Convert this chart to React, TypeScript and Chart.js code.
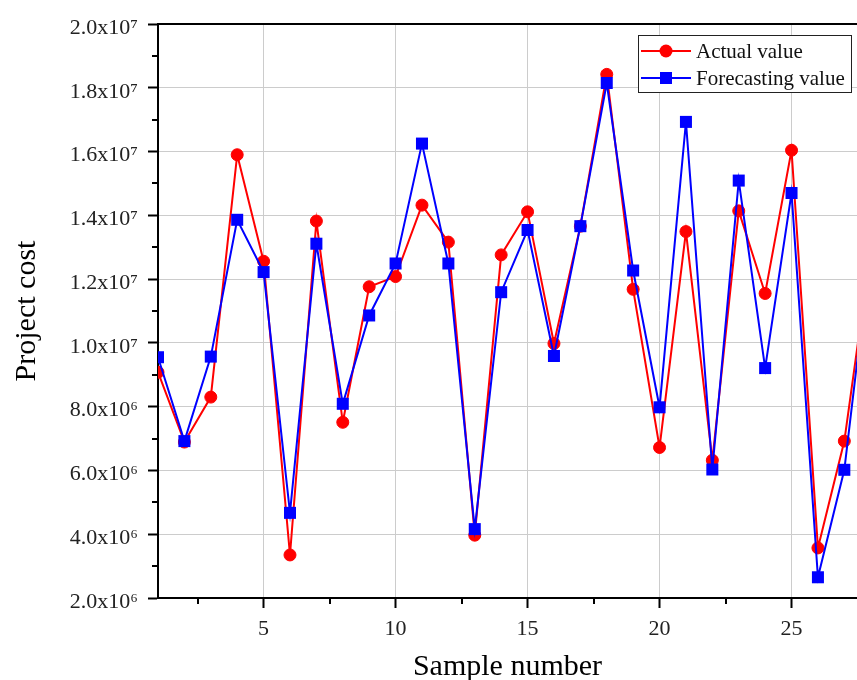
import React, { useEffect, useRef } from 'react';
import { Chart, registerables } from 'chart.js';

Chart.register(...registerables);

const sampleNumbers = [1, 2, 3, 4, 5, 6, 7, 8, 9, 10, 11, 12, 13, 14, 15, 16, 17, 18, 19, 20, 21, 22, 23, 24, 25, 26, 27, 28];
const actualValues = [9.08e6, 6.89e6, 8.3e6, 15.9e6, 12.56e6, 3.35e6, 13.82e6, 7.51e6, 11.76e6, 12.08e6, 14.32e6, 13.16e6, 3.97e6, 12.76e6, 14.11e6, 9.98e6, 13.66e6, 18.42e6, 11.68e6, 6.72e6, 13.49e6, 6.32e6, 14.14e6, 11.55e6, 16.04e6, 3.57e6, 6.92e6, 12.9e6];
const forecastValues = [9.55e6, 6.92e6, 9.57e6, 13.86e6, 12.22e6, 4.67e6, 13.11e6, 8.09e6, 10.86e6, 12.49e6, 16.25e6, 12.49e6, 4.16e6, 11.59e6, 13.54e6, 9.59e6, 13.66e6, 18.15e6, 12.27e6, 7.98e6, 16.93e6, 6.03e6, 15.09e6, 9.21e6, 14.7e6, 2.65e6, 6.02e6, 13.0e6];
const seriesLabels = ['Actual value', 'Forecasting value'];
const xTitle = 'Sample number';
const yTitle = 'Project cost';
const xMajorTicks = [5, 10, 15, 20, 25];
const xMinorTicks = [2.5, 7.5, 12.5, 17.5, 22.5, 27.5];
const yMajorTicks = [2e6, 4e6, 6e6, 8e6, 1e7, 1.2e7, 1.4e7, 1.6e7, 1.8e7, 2e7];
const yMinorTicks = [3e6, 5e6, 7e6, 9e6, 1.1e7, 1.3e7, 1.5e7, 1.7e7, 1.9e7];

const FONT = "'Liberation Serif', 'DejaVu Serif', serif";
const SUP: Record<number, string> = { 6: '\u2076', 7: '\u2077' };

function formatY(v: number): string {
  const e = v >= 1e7 ? 7 : 6;
  return `${(v / Math.pow(10, e)).toFixed(1)}x10${SUP[e]}`;
}

const isMajorX = (v: number) => xMajorTicks.includes(v);
const isMajorY = (v: number) => yMajorTicks.includes(v);

const framePlugin = {
  id: 'frameAndMinor',
  afterDraw(chart: any) {
    const { ctx, chartArea } = chart;
    const xs = chart.scales.x;
    const ys = chart.scales.y;
    ctx.save();
    ctx.strokeStyle = '#000';
    ctx.lineWidth = 2;
    // top frame line
    ctx.beginPath();
    ctx.moveTo(chartArea.left - 1, chartArea.top);
    ctx.lineTo(chartArea.right + 1, chartArea.top);
    ctx.stroke();
    // minor ticks
    ctx.beginPath();
    for (const v of xMinorTicks) {
      const px = Math.round(xs.getPixelForValue(v));
      ctx.moveTo(px, chartArea.bottom);
      ctx.lineTo(px, chartArea.bottom + 6);
    }
    for (const v of yMinorTicks) {
      const py = Math.round(ys.getPixelForValue(v));
      ctx.moveTo(chartArea.left, py);
      ctx.lineTo(chartArea.left - 6, py);
    }
    ctx.stroke();

    // legend
    const boxRight = chartArea.right - 5;
    const boxLeft = boxRight - 214;
    const boxTop = chartArea.top + 11;
    const boxH = 58;
    ctx.fillStyle = '#fff';
    ctx.fillRect(boxLeft, boxTop, boxRight - boxLeft, boxH);
    ctx.lineWidth = 1;
    ctx.strokeStyle = '#222';
    ctx.strokeRect(boxLeft + 0.5, boxTop + 0.5, boxRight - boxLeft - 1, boxH - 1);
    const rows = [boxTop + 16, boxTop + 43];
    chart.data.datasets.forEach((ds: any, i: number) => {
      const y = rows[i];
      const x0 = boxLeft + 3;
      const x1 = boxLeft + 53;
      const cx = (x0 + x1) / 2;
      ctx.strokeStyle = ds.borderColor;
      ctx.lineWidth = 2;
      ctx.beginPath();
      ctx.moveTo(x0, y);
      ctx.lineTo(x1, y);
      ctx.stroke();
      ctx.fillStyle = ds.pointBackgroundColor;
      if (ds.pointStyle === 'circle') {
        ctx.beginPath();
        ctx.arc(cx, y, 6.5, 0, Math.PI * 2);
        ctx.fill();
      } else {
        ctx.fillRect(cx - 6, y - 6, 12, 12);
      }
      ctx.fillStyle = '#111';
      ctx.font = `21px ${FONT}`;
      ctx.textBaseline = 'middle';
      ctx.textAlign = 'left';
      ctx.fillText(ds.label, boxLeft + 58, y + 1);
    });
    ctx.restore();
  },
};

export default function App() {
  const canvasRef = useRef<HTMLCanvasElement | null>(null);

  useEffect(() => {
    document.documentElement.style.overflow = 'hidden';
    document.body.style.overflow = 'hidden';
    const canvas = canvasRef.current;
    if (!canvas) return;
    const chart = new Chart(canvas, {
      type: 'line',
      data: {
        datasets: [
          {
            label: seriesLabels[0],
            data: sampleNumbers.map((x, i) => ({ x, y: actualValues[i] })),
            borderColor: '#ff0000',
            backgroundColor: '#ff0000',
            pointBackgroundColor: '#ff0000',
            pointBorderColor: '#ff0000',
            pointStyle: 'circle',
            pointRadius: 6,
            pointBorderWidth: 1,
            borderWidth: 2,
            tension: 0,
            order: 1,
            clip: 0,
          },
          {
            label: seriesLabels[1],
            data: sampleNumbers.map((x, i) => ({ x, y: forecastValues[i] })),
            borderColor: '#0000ff',
            backgroundColor: '#0000ff',
            pointBackgroundColor: '#0000ff',
            pointBorderColor: '#0000ff',
            pointStyle: 'rect',
            pointRadius: 8.5,
            pointBorderWidth: 0,
            borderWidth: 2,
            tension: 0,
            order: 0,
            clip: 0,
          },
        ],
      },
      options: {
        animation: false,
        responsive: true,
        maintainAspectRatio: false,
        layout: { autoPadding: false, padding: { top: 24, left: 0, right: 0, bottom: 0 } },
        plugins: {
          legend: { display: false },
          tooltip: { enabled: false },
        },
        scales: {
          x: {
            type: 'linear',
            min: 1,
            max: 27.48,
            afterBuildTicks: (scale: any) => {
              scale.ticks = xMajorTicks.map((v) => ({ value: v }));
            },
            afterFit: (scale: any) => {
              scale.height = 87;
            },
            ticks: {
              autoSkip: false,
              maxRotation: 0,
              padding: 8,
              color: '#222',
              font: { family: FONT, size: 22 },
              callback: (v: any) => (isMajorX(Number(v)) ? String(v) : ''),
            },
            grid: {
              color: '#cccccc',
              lineWidth: 1,
              drawTicks: true,
              tickLength: 10,
              tickWidth: 2,
              tickColor: '#000',
            },
            border: { display: true, color: '#000', width: 2 },
            title: {
              display: true,
              text: xTitle,
              color: '#000',
              font: { family: FONT, size: 30 },
              padding: { top: 0, bottom: 0 },
            },
          },
          y: {
            type: 'linear',
            min: 2e6,
            max: 2e7,
            afterBuildTicks: (scale: any) => {
              scale.ticks = yMajorTicks.map((v) => ({ value: v }));
            },
            afterFit: (scale: any) => {
              scale.width = 158;
            },
            ticks: {
              autoSkip: false,
              padding: 10,
              labelOffset: 4,
              color: '#222',
              font: { family: FONT, size: 22 },
              callback: (v: any) => (isMajorY(Number(v)) ? formatY(Number(v)) : ''),
            },
            grid: {
              color: '#cccccc',
              lineWidth: 1,
              drawTicks: true,
              tickLength: 10,
              tickWidth: 2,
              tickColor: '#000',
            },
            border: { display: true, color: '#000', width: 2 },
            title: {
              display: true,
              text: yTitle,
              color: '#000',
              font: { family: FONT, size: 30 },
              padding: { top: 9, bottom: 0 },
            },
          },
        },
      },
      plugins: [framePlugin],
    } as any);
    return () => chart.destroy();
  }, []);

  return (
    <div style={{ position: 'fixed', left: 0, top: 0, width: 857, height: 685 }}>
      <canvas ref={canvasRef} />
    </div>
  );
}
